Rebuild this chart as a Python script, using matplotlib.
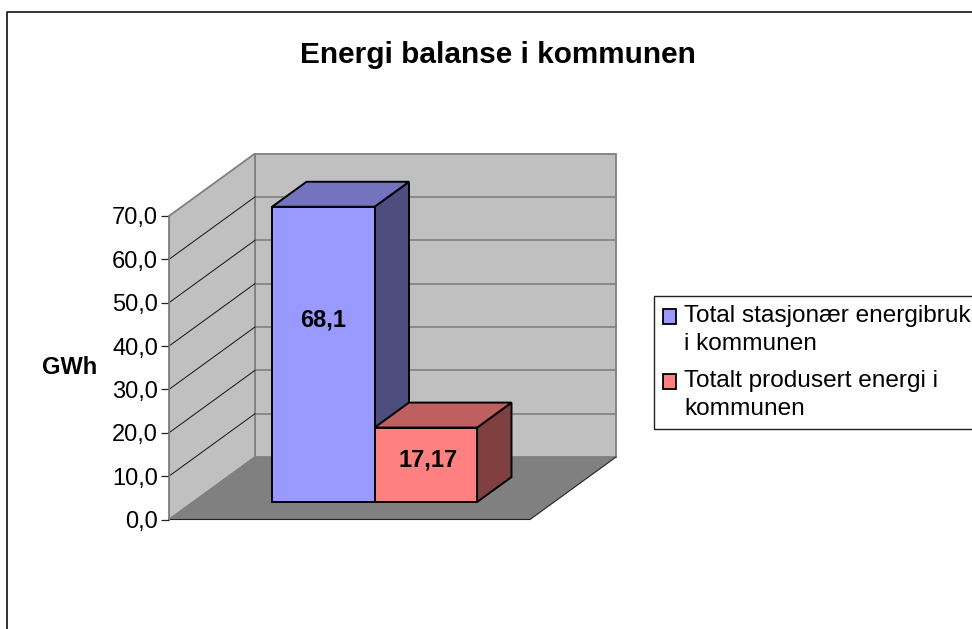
import matplotlib
matplotlib.use("Agg")
import matplotlib.pyplot as plt
from matplotlib.patches import Patch, Polygon

plt.rcParams['font.family'] = ['Liberation Sans', 'DejaVu Sans']

title = "Energi balanse i kommunen"
series_names = ["Total stasjonær energibruk\ni kommunen", "Totalt produsert energi i\nkommunen"]
values = [68.1, 17.17]
value_labels = ["68,1", "17,17"]
ticks = [0, 10, 20, 30, 40, 50, 60, 70]
tick_labels = ["0,0", "10,0", "20,0", "30,0", "40,0", "50,0", "60,0", "70,0"]
axis_label = "GWh"
front_colors = ["#9999FF", "#FF8080"]
top_colors = ["#7373BF", "#BF6060"]
side_colors = ["#4D4D80", "#804040"]

W, H = 972, 629
PX_PER_UNIT = 4.336
Y0 = 519.5
FLOOR_L, FLOOR_R = 169.0, 530.0
DEPTH_DX, DEPTH_DV = 86.0, 14.4
BAR_D0, BAR_D1 = 0.28, 0.68
BAR_LEFT = 248.0
BAR_W = 102.5


def proj(x, d, v):
    return (x + d * DEPTH_DX, v + d * DEPTH_DV)


def py(p):
    return (Y0 - p) / PX_PER_UNIT


fig = plt.figure(figsize=(W / 100, H / 100), dpi=100, facecolor="white")
ax = fig.add_axes([0, 0, 1, 1], facecolor="none")
ax.set_xlim(0, W)
ax.set_ylim(py(H), py(0))

# chart frame
ax.plot([7, 7, W + 5], [py(H + 5), py(12), py(12)], color="#222222", lw=1.3, zorder=1)

vmax = ticks[-1]
# walls and floor
ax.add_patch(Polygon([proj(FLOOR_L, 1, 0), proj(FLOOR_R, 1, 0), proj(FLOOR_R, 1, vmax), proj(FLOOR_L, 1, vmax)],
                     fc="#C0C0C0", ec="#808080", lw=1.3, zorder=2))
ax.add_patch(Polygon([proj(FLOOR_L, 0, 0), proj(FLOOR_L, 1, 0), proj(FLOOR_L, 1, vmax), proj(FLOOR_L, 0, vmax)],
                     fc="#C0C0C0", ec="#808080", lw=1.3, zorder=2))
ax.add_patch(Polygon([proj(FLOOR_L, 0, 0), proj(FLOOR_R, 0, 0), proj(FLOOR_R, 1, 0), proj(FLOOR_L, 1, 0)],
                     fc="#808080", ec="none", zorder=2))
ax.plot(*zip(proj(FLOOR_L, 0, 0), proj(FLOOR_R, 0, 0), proj(FLOOR_R, 1, 0)), color="#222222", lw=0.8, zorder=3)

# gridlines
for t in ticks[1:-1]:
    ax.plot(*zip(proj(FLOOR_L, 1, t), proj(FLOOR_R, 1, t)), color="#808080", lw=1.2, zorder=3)
    ax.plot(*zip(proj(FLOOR_L, 0, t), proj(FLOOR_L, 1, t)), color="#111111", lw=0.7, zorder=3)

# bars
for i, v in enumerate(values):
    x0 = BAR_LEFT + i * BAR_W
    x1 = x0 + BAR_W
    z = 4 + i
    kw = dict(ec="black", lw=1.4, joinstyle="miter", zorder=z)
    base = 0
    ax.add_patch(Polygon([proj(x1, BAR_D0, base), proj(x1, BAR_D1, base), proj(x1, BAR_D1, v), proj(x1, BAR_D0, v)],
                         fc=side_colors[i], **kw))
    ax.add_patch(Polygon([proj(x0, BAR_D0, v), proj(x1, BAR_D0, v), proj(x1, BAR_D1, v), proj(x0, BAR_D1, v)],
                         fc=top_colors[i], **kw))
    ax.add_patch(Polygon([proj(x0, BAR_D0, base), proj(x1, BAR_D0, base), proj(x1, BAR_D0, v), proj(x0, BAR_D0, v)],
                         fc=front_colors[i], **kw))

# value labels
label_x = [323, 428]
label_y = [46.0, 13.7]
for x, y, s in zip(label_x, label_y, value_labels):
    ax.text(x, y, s, ha="center", va="center", fontsize=17, fontweight="bold", color="black", zorder=8)

# value axis
for name, sp in ax.spines.items():
    sp.set_visible(False)
ax.spines['left'].set_visible(True)
ax.spines['left'].set_position(('data', FLOOR_L))
ax.spines['left'].set_bounds(0, vmax)
ax.spines['left'].set_color("#808080")
ax.spines['left'].set_zorder(3)
ax.set_xticks([])
ax.set_yticks(ticks)
ax.set_yticklabels(tick_labels)
ax.tick_params(axis='y', direction='out', length=5.8, width=0.9, color="#222222", pad=2, labelsize=17)

ax.text(70, py(367), axis_label, ha="center", va="center", fontsize=17, fontweight="bold")
ax.text(498, py(54.5), title, ha="center", va="center", fontsize=21.4, fontweight="bold")

# legend
handles = [Patch(fc=c, ec="black", lw=1.3) for c in front_colors]
leg = ax.legend(handles, series_names, loc="upper left",
                bbox_to_anchor=(653.5 / W, 1 - 295.5 / H), bbox_transform=fig.transFigure,
                borderaxespad=0, frameon=True, fancybox=False, framealpha=1, edgecolor="#222222",
                fontsize=17.6, handlelength=0.56, handleheight=0.56, handletextpad=0.33,
                borderpad=0.37, labelspacing=0.6, alignment="left")
for t in leg.get_texts():
    t.set_linespacing(1.37)
for h in leg.legend_handles:
    h.set_y(h.get_y() + 9.4)
leg.get_frame().set_linewidth(1.0)
leg.set_zorder(9)

fig.savefig("out.png", dpi=100)
